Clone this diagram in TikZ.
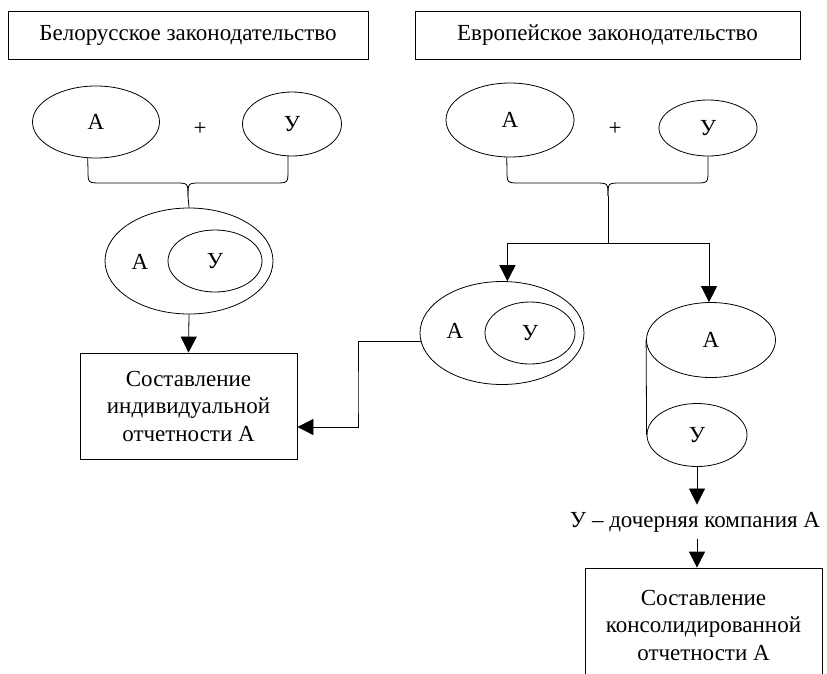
\documentclass[tikz,border=0pt]{standalone}
\usepackage{fontspec}
\setmainfont{Liberation Serif}
\usetikzlibrary{shapes.geometric,arrows.meta}
\begin{document}
\begin{tikzpicture}[x=1pt,y=-1pt, font=\fontsize{23}{27.5}\selectfont, line width=0.8pt,
 ell/.style={draw, ellipse, inner sep=0pt},
 rbox/.style={draw, rectangle, inner sep=0pt, align=center},
 lbl/.style={inner sep=0pt},
 arr/.style={-{Triangle[width=16pt,length=16pt]}}]
\useasboundingbox (0,0) rectangle (827,673);
\clip (0,0) rectangle (827,673);
% headers
\node[rbox, minimum width=360, minimum height=48] (bel) at (188,35) {Белорусское законодательство};
\node[rbox, minimum width=385, minimum height=48] (eur) at (607.5,35) {Европейское законодательство};
% left top ellipses
\node[ell, minimum width=127, minimum height=72] (a1) at (96,122) {А};
\node[lbl] (p1) at (200,129) {+};
\node[ell, minimum width=99, minimum height=64] (u1) at (292,124) {У};
% left brace
\coordinate (t1) at (188,196);
\draw (a1.257) -- (88,170) .. controls (88,183) .. (101,183) -- (175,183) .. controls (188,183) .. (t1);
\draw (u1.263) -- (288,170) .. controls (288,183) .. (275,183) -- (201,183) .. controls (188,183) .. (t1);
% left merged ellipse
\node[ell, minimum width=168, minimum height=106] (b1) at (189,261) {};
\node[ell, minimum width=94, minimum height=62] (c1) at (215,261) {У};
\node[lbl] (b1a) at (140,262) {А};
\draw (t1) -- (b1.north);
% individual report box
\node[rbox, minimum width=217, minimum height=106] (ind) at (188.5,406) {Составление\\индивидуальной\\отчетности А};
\draw[arr] (b1.south) -- (ind.north);
% right top ellipses
\node[ell, minimum width=128, minimum height=74] (a2) at (510,120) {А};
\node[lbl] (p2) at (615,129) {+};
\node[ell, minimum width=98, minimum height=56] (u2) at (708,128) {У};
\coordinate (t2) at (608,196);
\coordinate (j2) at (608,243);
\draw (a2.265) -- (507,170) .. controls (507,183) .. (520,183) -- (595,183) .. controls (608,183) .. (t2);
\draw (u2.south) -- (708,170) .. controls (708,183) .. (695,183) -- (621,183) .. controls (608,183) .. (t2);
\draw (t2) -- (j2);
% middle nested ellipse
\node[ell, minimum width=164, minimum height=103] (m) at (502,333) {};
\node[ell, minimum width=90, minimum height=62] (mu) at (530,333) {У};
\node[lbl] (ma) at (455,331) {А};
% right separate ellipses
\node[ell, minimum width=129, minimum height=75] (ra) at (711,340) {А};
\node[ell, minimum width=100, minimum height=63] (ru) at (697,435) {У};
\draw (ra.west) -- (ru.west);
\draw[arr] (j2) -| (m.84);
\draw[arr] (j2) -| (ra.93);
% connector middle -> individual box
\draw[arr] (m.186) -| (358,400) |- ([yshift=-21pt]ind.east);
% subsidiary label and consolidated box
\node[inner sep=7pt] (sub) at (695,522) {У – дочерняя компания А};
\draw[arr] (ru.south) -- (ru.south |- sub.north);
\node[rbox, minimum width=237, minimum height=114] (cons) at (703.5,625) {Составление\\консолидированной\\отчетности А};
\draw[arr] (sub.south -| ru.south) -- (ru.south |- cons.north);
\end{tikzpicture}
\end{document}
